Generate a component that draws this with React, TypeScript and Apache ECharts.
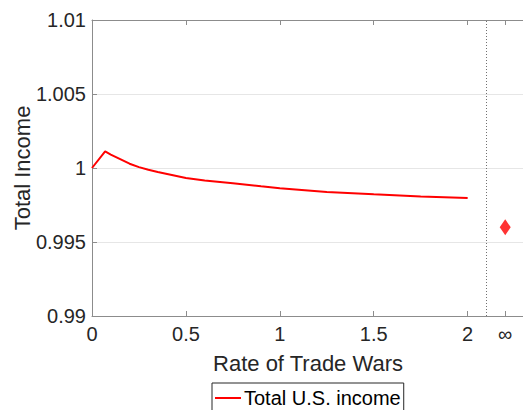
import React, { useEffect, useRef } from "react";
import * as echarts from "echarts";

const rates = [0, 0.07, 0.1, 0.15, 0.2, 0.25, 0.3, 0.35, 0.4, 0.5, 0.6, 0.75, 0.9, 1, 1.25, 1.5, 1.75, 2];
const income = [
  1, 1.00113, 1.00091, 1.0006, 1.00029, 1.00006, 0.99988, 0.99973, 0.9996, 0.99933, 0.99915, 0.99897,
  0.99876, 0.99863, 0.99838, 0.99822, 0.99808, 0.99797,
];
const infRate = 2.2;
const infIncome = 0.996;
const separatorRate = 2.1;
const xTickValues = [0, 0.5, 1, 1.5, 2, 2.2];
const xTickLabels = ["0", "0.5", "1", "1.5", "2", "∞"];
const seriesName = "Total U.S. income";

const FONT = "'Liberation Sans', Arial, Helvetica, sans-serif";
const AXIS_GREY = "#8c8c8c";
const TEXT = "#262626";

export default function App() {
  const ref = useRef<HTMLDivElement>(null);
  useEffect(() => {
    if (!ref.current) return;
    const chart = echarts.init(ref.current, null, { renderer: "svg" });
    const fmtX = (v: number) => {
      const i = xTickValues.findIndex((t) => Math.abs(t - v) < 1e-6);
      return i >= 0 ? xTickLabels[i] : "";
    };
    chart.setOption({
      animation: false,
      backgroundColor: "#ffffff",
      textStyle: { fontFamily: FONT },
      grid: { left: 92, top: 20, width: 432, height: 296, containLabel: false, outerBoundsMode: "none" },
      legend: {
        data: [{ name: seriesName, icon: "rect" }],
        left: 212,
        top: 383,
        itemWidth: 26,
        itemHeight: 2,
        itemGap: 4,
        padding: [5, 3, 8, 3],
        borderColor: "#262626",
        borderWidth: 1,
        textStyle: { fontFamily: FONT, fontSize: 20, color: "#000", padding: [0, 0, 0, -2] },
      },
      xAxis: [
        {
          type: "value",
          min: 0,
          max: 2.3,
          position: "bottom",
          name: "Rate of Trade Wars",
          nameLocation: "middle",
          nameGap: 36,
          nameMoveOverlap: false,
          nameTextStyle: { fontFamily: FONT, fontSize: 22, color: TEXT },
          axisLine: { show: true, lineStyle: { color: AXIS_GREY, width: 1 } },
          axisTick: { show: true, inside: true, length: 5, customValues: xTickValues, lineStyle: { color: AXIS_GREY } },
          axisLabel: { show: true, customValues: xTickValues, formatter: fmtX, fontFamily: FONT, fontSize: 20, color: TEXT, margin: 8 },
          splitLine: { show: false },
        },
        {
          type: "value",
          min: 0,
          max: 2.3,
          position: "top",
          axisLine: { show: true, lineStyle: { color: AXIS_GREY, width: 1 } },
          axisTick: { show: true, inside: true, length: 5, customValues: xTickValues, lineStyle: { color: AXIS_GREY } },
          axisLabel: { show: false },
          splitLine: { show: false },
        },
      ],
      yAxis: {
        type: "value",
        min: 0.99,
        max: 1.01,
        interval: 0.005,
        name: "Total Income",
        nameLocation: "middle",
        nameGap: 59,
        nameMoveOverlap: false,
        nameTextStyle: { fontFamily: FONT, fontSize: 22, color: TEXT },
        axisLine: { show: true, lineStyle: { color: AXIS_GREY, width: 1 } },
        axisTick: { show: true, inside: true, length: 5, lineStyle: { color: AXIS_GREY } },
        axisLabel: {
          fontFamily: FONT,
          fontSize: 20,
          color: TEXT,
          margin: 6,
          formatter: (v: number) => String(parseFloat(v.toFixed(4))),
        },
        splitLine: { show: true, lineStyle: { color: "#e6e6e6", width: 1 } },
      },
      series: [
        {
          name: seriesName,
          type: "line",
          data: rates.map((r, i) => [r, income[i]]),
          showSymbol: false,
          symbol: "none",
          lineStyle: { color: "#ff0000", width: 2 },
          itemStyle: { color: "#ff0000" },
          markLine: {
            silent: true,
            symbol: "none",
            label: { show: false },
            lineStyle: { color: "#707070", type: [1, 2], width: 1 },
            data: [{ xAxis: separatorRate }],
          },
        },
        {
          name: "infinity",
          type: "scatter",
          data: [[infRate, infIncome]],
          symbol: "diamond",
          symbolSize: [11, 16],
          itemStyle: { color: "#ff0000" },
        },
      ],
    });
    return () => chart.dispose();
  }, []);
  return <div ref={ref} style={{ position: "fixed", left: 0, top: 0, width: 523, height: 410 }} />;
}
